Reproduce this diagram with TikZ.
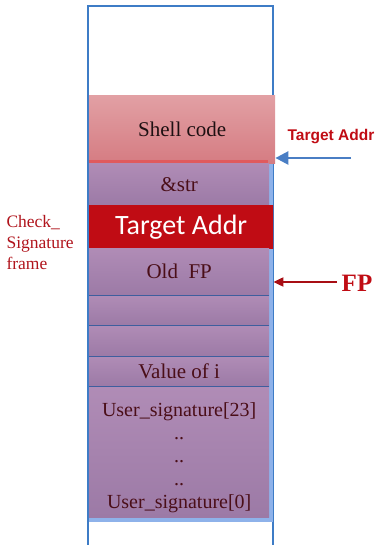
\documentclass[tikz,border=0pt]{standalone}
\usepackage{fontspec}
\setmainfont{Liberation Serif}
\newfontfamily\calibri{Carlito}
\newfontfamily\arial{Liberation Sans}
\usetikzlibrary{positioning,arrows.meta}

\definecolor{shelltop}{HTML}{E2A0A4}
\definecolor{shellbot}{HTML}{D57C82}
\definecolor{shellline}{HTML}{E05A5E}
\definecolor{slottop}{HTML}{B08CB6}
\definecolor{slotbot}{HTML}{9C7AA6}
\definecolor{tgtred}{HTML}{C00C14}
\definecolor{stripblue}{HTML}{8EB2EA}
\definecolor{frameblue}{HTML}{3E7CC6}
\definecolor{divblue}{HTML}{3E5E9E}
\definecolor{slottext}{HTML}{4A0E18}
\definecolor{shelltext}{HTML}{1E1012}
\definecolor{lblred}{HTML}{B0141C}
\definecolor{arrowblue}{HTML}{4A7EC4}
\definecolor{fpred}{HTML}{A80E14}

\begin{document}
\begin{tikzpicture}[x=1pt,y=1pt,
  slot/.style={anchor=north west,inner sep=0pt,minimum width=180pt,
    top color=slottop,bottom color=slotbot,text=slottext,
    font=\fontsize{21}{23}\selectfont},
  divider/.style={draw=divblue,line width=0.6pt}]
  \useasboundingbox (0,0) rectangle (378,545);

  % stack frame outline and blue backing
  \draw[frameblue,line width=1.2pt] (88,-2) |- (273,539) -- (273,-2);
  \fill[stripblue] (89,382) rectangle (273,23);

  \node[slot,minimum width=186pt,minimum height=68pt,top color=shelltop,bottom color=shellbot,
    text=shelltext] (shell) at (89,450) {Shell code};
  \draw[shellline,line width=3pt] (89,383.5) -- (268,383.5);
  \node[slot,minimum height=42pt] (str) at (89,382) {\&str};
  \node[slot,minimum width=184pt,minimum height=43pt,top color=tgtred,bottom color=tgtred,text=white,
    font=\calibri\fontsize{28}{30}\selectfont] (target) at (89,340) {Target Addr};
  \node[slot,minimum height=47pt] (oldfp) at (89,297) {Old~~FP};
  \node[slot,minimum height=30pt] (blanka) at (89,250) {};
  \node[slot,minimum height=31pt] (blankb) at (89,220) {};
  \node[slot,minimum height=30pt] (vali) at (89,189) {Value of i};
  \node[slot,minimum height=131pt] (usersig) at (89,159) {};
  \node[align=center,text=slottext,font=\fontsize{20}{23}\selectfont] (sigtext)
    at ([yshift=-6pt]usersig.center) {User\_signature[23]\\..\\..\\..\\User\_signature[0]};

  \draw[divider] (oldfp.south west) -- (oldfp.south east);
  \draw[divider] (blanka.south west) -- (blanka.south east);
  \draw[divider] (blankb.south west) -- (blankb.south east);
  \draw[divider] (vali.south west) -- (vali.south east);

  % labels
  \node[anchor=west,align=left,text=lblred,font=\fontsize{17.5}{21}\selectfont] (frame)
    at (3,302) {Check\_\\Signature\\frame};
  \node[text=tgtred,font=\arial\bfseries\fontsize{15.5}{17}\selectfont] (tgtlbl)
    at (331,408) {Target Addr};
  \node[text=tgtred,font=\bfseries\fontsize{25}{28}\selectfont] (fplbl) at (357,262) {FP};

  \coordinate (tgtfrom) at (351,387);
  \coordinate (fpfrom) at (337,263);
  \draw[arrowblue,line width=2.5pt,-{Triangle[length=13pt,width=13pt]}]
    (tgtfrom) -- (shell.east |- tgtfrom);
  \draw[fpred,line width=2pt,-{Triangle[length=10pt,width=9pt]}]
    (fpfrom) -- (target.east |- fpfrom);
\end{tikzpicture}
\end{document}
